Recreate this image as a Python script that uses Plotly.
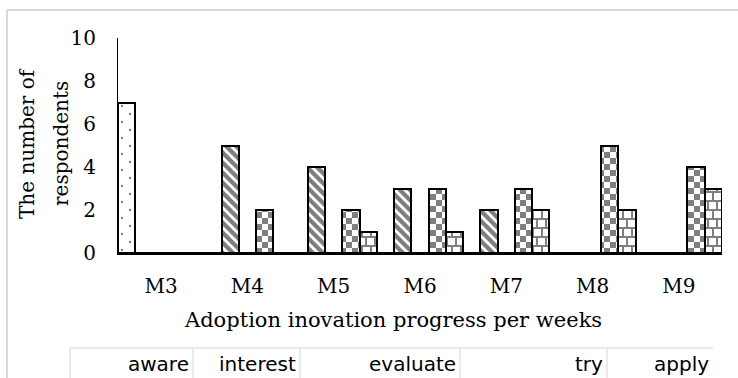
import plotly.graph_objects as go

# Weekly counts of respondents at each adoption stage
weeks = ["M3", "M4", "M5", "M6", "M7", "M8", "M9"]
stages = ["aware", "interest", "evaluate", "try", "apply"]
aware = [7, 0, 0, 0, 0, 0, 0]
interest = [0, 5, 4, 3, 2, 0, 0]
evaluate = [0, 0, 0, 0, 0, 0, 0]
try_ = [0, 2, 2, 3, 3, 5, 4]
apply_ = [0, 0, 1, 1, 2, 2, 3]
series = [aware, interest, evaluate, try_, apply_]

y_ticks = [0, 2, 4, 6, 8, 10]
x_title = "Adoption inovation progress per weeks"
y_title_lines = ["The number of", "respondents"]

SERIF = "DejaVu Serif"
SANS = "DejaVu Sans"

# plot-area geometry in pixels (738 x 378 canvas)
W, H = 738, 378
L, R, T, B = 118, 722, 38, 253


def px_x(p):
    return (p - L) / (R - L)


def px_y(p):
    return (B - p) / (B - T)


def custom(path, size):
    return go.bar.marker.Pattern(path=path, size=size, fgcolor="black",
                                 bgcolor="white")


# fill textures for each stage
patterns = [
    # sparse staggered dots
    custom("M3,3h2v2h-2Z M11,11h2v2h-2Z", 16),
    # bold back-diagonal stripes
    custom("M0,0L3,0L10,7L10,10L7,10L0,3Z M7,0L10,0L10,3Z M0,7L3,10L0,10Z", 10),
    go.bar.marker.Pattern(shape="", fgcolor="black", bgcolor="white"),
    # checkerboard
    custom("M0,0H6V6H0Z M6,6H12V12H6Z", 12),
    # brick wall
    custom("M0,0H18V2H0Z M0,9H18V11H0Z M4,2H6V9H4Z M13,2H15V9H13Z "
           "M0,11H2V18H0Z M9,11H11V18H9Z", 18),
]

fig = go.Figure()
for name, vals, pat in zip(stages, series, patterns):
    fig.add_trace(go.Bar(
        x=weeks, y=vals, name=name,
        marker=dict(color="white", pattern=pat,
                    line=dict(color="black", width=2)),
        showlegend=False,
    ))

shapes = []
frame = "#d9d9d9"
# outer chart frame
shapes.append(dict(type="line", xref="paper", yref="paper",
                   x0=px_x(7), x1=px_x(W + 5), y0=px_y(10), y1=px_y(10),
                   line=dict(color=frame, width=2)))
shapes.append(dict(type="line", xref="paper", yref="paper",
                   x0=px_x(7), x1=px_x(7), y0=px_y(10), y1=px_y(H + 5),
                   line=dict(color=frame, width=2)))

# stage table under the axis
cell_edges = [70, 193, 300, 460, 607, 713]
grid = "#e3e3e3"
shapes.append(dict(type="line", xref="paper", yref="paper",
                   x0=px_x(cell_edges[0]), x1=px_x(cell_edges[-1]),
                   y0=px_y(348), y1=px_y(348), line=dict(color=grid, width=1.5)))
for e in cell_edges[:-1]:
    shapes.append(dict(type="line", xref="paper", yref="paper",
                       x0=px_x(e), x1=px_x(e), y0=px_y(348), y1=px_y(H + 5),
                       line=dict(color=grid, width=1.5)))

annotations = []
for name, right in zip(stages, cell_edges[1:]):
    annotations.append(dict(
        text=name, xref="paper", yref="paper",
        x=px_x(right - 2), y=px_y(364), xanchor="right", yanchor="middle",
        showarrow=False, font=dict(family=SANS, size=20, color="black"),
    ))

# axis titles
annotations.append(dict(
    text=x_title, xref="paper", yref="paper", x=px_x(393), y=px_y(320),
    xanchor="center", yanchor="middle", showarrow=False,
    font=dict(family=SERIF, size=21, color="black"),
))
for line, cx in zip(y_title_lines, [27, 61]):
    annotations.append(dict(
        text=line, xref="paper", yref="paper", x=px_x(cx), y=px_y(144),
        xanchor="center", yanchor="middle", textangle=-90, showarrow=False,
        font=dict(family=SERIF, size=20, color="black"),
    ))

fig.update_layout(
    width=W, height=H,
    margin=dict(l=L, r=W - R, t=T, b=H - B, autoexpand=False),
    paper_bgcolor="white", plot_bgcolor="white",
    barmode="group", bargap=0, bargroupgap=0,
    shapes=shapes, annotations=annotations,
    font=dict(family=SERIF, size=20, color="black"),
    xaxis=dict(
        showline=True, linecolor="black", linewidth=2, ticks="",
        showgrid=False, zeroline=False,
        tickfont=dict(family=SERIF, size=20),
        ticklabelstandoff=14,
    ),
    yaxis=dict(
        range=[0, 10], tickvals=y_ticks, showline=True, linecolor="black",
        linewidth=1, ticks="", showgrid=False, zeroline=False,
        tickfont=dict(family=SERIF, size=20), ticklabelstandoff=17,
    ),
)

fig.write_html("out.html")
